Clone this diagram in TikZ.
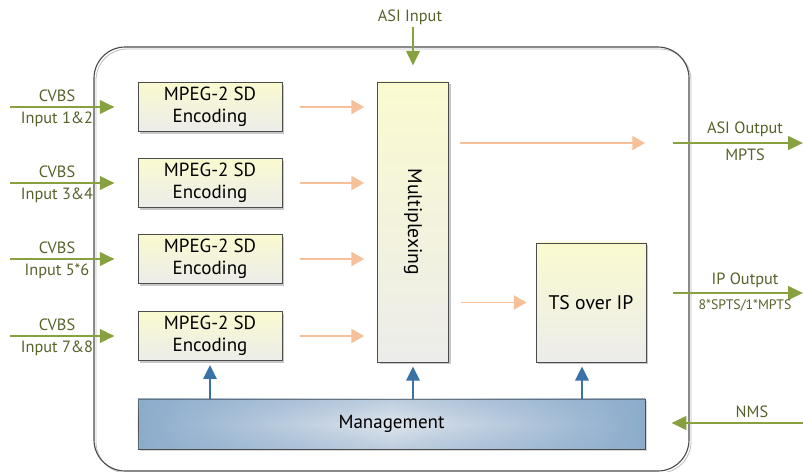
\documentclass[tikz,border=0pt]{standalone}
\usepackage{fontspec}
\setmainfont{PT Sans}
\usetikzlibrary{calc,positioning,arrows.meta,shadows,fadings}
\definecolor{greenline}{RGB}{135,160,64}
\definecolor{greentext}{RGB}{85,98,42}
\definecolor{flowline}{RGB}{246,192,152}
\definecolor{ctrlline}{RGB}{58,114,168}
\definecolor{boxtop}{RGB}{250,250,208}
\definecolor{boxbottom}{RGB}{236,236,234}
\definecolor{mgmtedge}{RGB}{140,172,204}
\definecolor{mgmtmid}{RGB}{222,228,236}
\tikzfading[name=bandfade,top color=transparent!60,bottom color=transparent!60,middle color=transparent!100]

\begin{document}
\begin{tikzpicture}[
  x=0.025cm, y=-0.025cm,
  block/.style={rectangle,draw=black!70,line width=.6pt,inner sep=0pt,align=center,
    top color=boxtop,bottom color=boxbottom,
    drop shadow={shadow xshift=1.6pt,shadow yshift=-1.6pt,fill=black!22,opacity=1},
    font=\fontsize{13.5}{15.5}\selectfont},
  label text/.style={text=greentext,inner sep=0pt,font=\fontsize{11.6}{13}\selectfont},
  green arrow/.style={draw=greenline,line width=2pt,-{Triangle[length=10.5pt,width=9.5pt]}},
  flow arrow/.style={draw=flowline,line width=1.4pt,-{Triangle[length=9pt,width=10pt]}},
  ctrl arrow/.style={draw=ctrlline,line width=1.4pt,-{Triangle[length=10pt,width=9.5pt]}},
  ]

  \useasboundingbox (0,0) rectangle (803,472);

  % chassis
  \draw[black!25,line width=.6pt,rounded corners=0.78cm] (96,49) rectangle (691,473);
  \draw[black!70,line width=.8pt,rounded corners=0.78cm] (94,47) rectangle (689,471);

  % inner blocks
  \node (mux) [block,minimum width=1.775cm,minimum height=7cm] at (413,222) {};
  \node (mux_text) [rotate=-90,font=\fontsize{14}{16}\selectfont] at (mux.center) {Multiplexing};
  \node (tsip) [block,minimum width=2.75cm,minimum height=2.975cm,font=\fontsize{14}{16}\selectfont] at (591,302.5) {TS over IP};
  \node (mgmt) [rectangle,draw=black!70,line width=.6pt,minimum width=12.675cm,minimum height=1.25cm,
    left color=mgmtedge,right color=mgmtedge,middle color=mgmtmid,
    postaction={fill=mgmtedge,path fading=bandfade},
    drop shadow={shadow xshift=1.6pt,shadow yshift=-1.6pt,fill=black!15,opacity=1},
    font=\fontsize{13.5}{15.5}\selectfont] at (391.5,424) {Management};

  \foreach \i/\y/\ch in {1/107/1\&2,2/183/3\&4,3/259/5*6,4/336/7\&8}
  {
    \node (enc_\i) [block,minimum width=3.6cm,minimum height=1.225cm] at (210,\y) {MPEG-2 SD\\Encoding};
    \coordinate (cvbs_\i) at (10,\y);
    \node (cvbs_top_\i) [label text] at (57,\y-11) {CVBS};
    \node (cvbs_bot_\i) [label text] at (57,\y+12) {Input \ch};
    \draw[green arrow,shorten >=0.575cm] (cvbs_\i) -- (enc_\i.west);
    \draw[flow arrow,shorten <=0.45cm,shorten >=0.325cm] (enc_\i.east) -- (enc_\i.east -| mux.west);
  }

  % ASI input
  \coordinate (asi_in) at (413,27);
  \node (asi_in_lbl) [label text] at (410,17) {ASI Input};
  \draw[green arrow,shorten >=0.4cm] (asi_in) -- (mux.north);

  % ASI output
  \coordinate (asi_out_a) at (673,143);
  \coordinate (asi_out_b) at (803,143);
  \draw[flow arrow,shorten <=0.275cm,shorten >=0.7cm] (asi_out_a -| mux.east) -- (asi_out_a);
  \draw[green arrow] (asi_out_a) -- (asi_out_b);
  \node (asi_out_lbl) [label text] at (745,129) {ASI Output};
  \node (asi_out_sub) [label text] at (745,155) {MPTS};

  % IP output
  \draw[flow arrow,shorten <=0.3cm,shorten >=0.225cm] (tsip.west -| mux.east) -- (tsip.west);
  \coordinate (ip_out_a) at (673,293);
  \coordinate (ip_out_b) at (803,293);
  \draw[green arrow] (ip_out_a) -- (ip_out_b);
  \node (ip_out_lbl) [label text] at (745,280) {IP Output};
  \node (ip_out_sub) [label text,font=\fontsize{9.8}{11}\selectfont] at (745,306) {8*SPTS/1*MPTS};

  % management links
  \draw[ctrl arrow,shorten >=0.1cm] (enc_4.south |- mgmt.north) -- (enc_4.south);
  \draw[ctrl arrow,shorten >=0.1cm] (mux.south |- mgmt.north) -- (mux.south);
  \draw[ctrl arrow,shorten >=0.1cm] ([xshift=-0.225cm]tsip.south |- mgmt.north) -- ([xshift=-0.225cm]tsip.south);

  \coordinate (nms) at (803,423);
  \node (nms_lbl) [label text] at (752,412) {NMS};
  \draw[green arrow,shorten >=0.65cm] (nms) -- (nms -| mgmt.east);

\end{tikzpicture}
\end{document}
